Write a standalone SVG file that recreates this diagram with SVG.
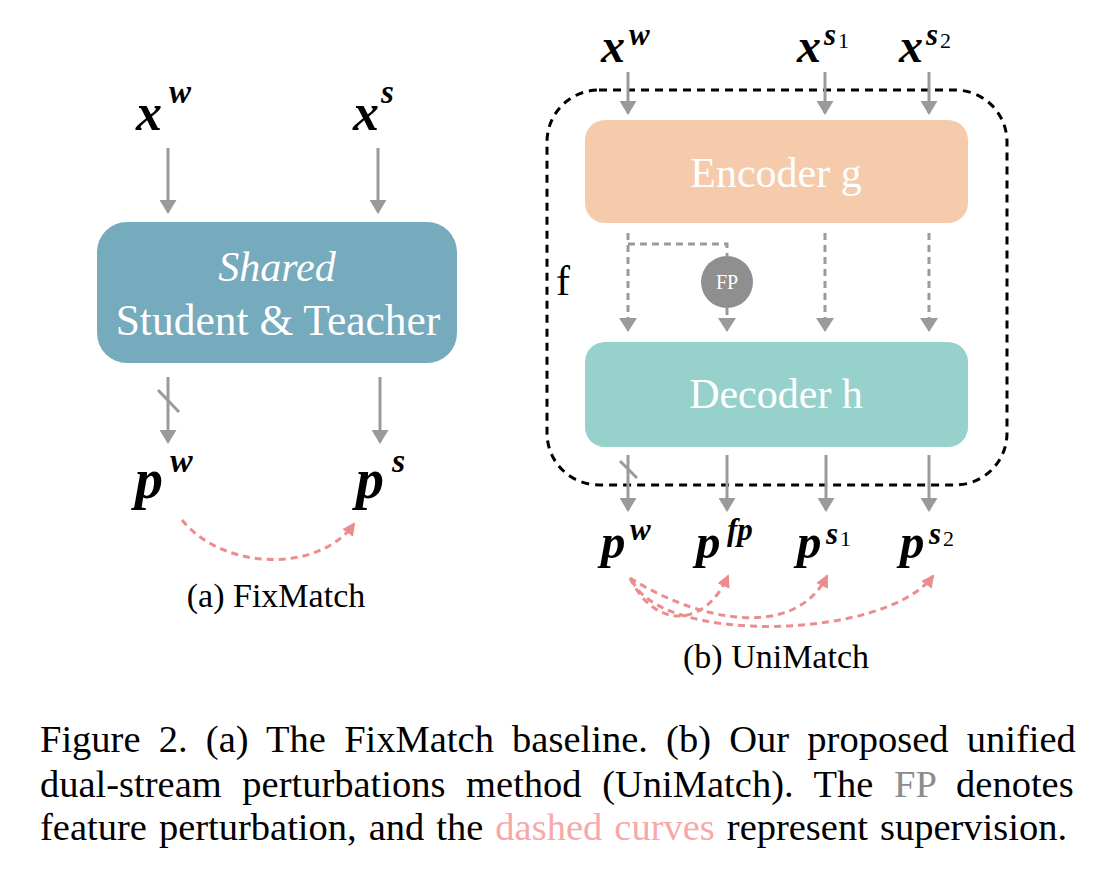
<svg xmlns="http://www.w3.org/2000/svg" width="1116" height="870" viewBox="0 0 1116 870">
<defs>
<style>
.m{font-family:"Liberation Serif","Times New Roman",serif;font-style:italic;font-weight:bold;fill:#000}
.d{font-family:"Liberation Serif","Times New Roman",serif;font-style:normal;font-weight:normal;fill:#000}
.t{font-family:"Liberation Serif","Times New Roman",serif;fill:#000}
.w{font-family:"Liberation Serif","Times New Roman",serif;fill:#fff;text-anchor:middle}
.ga{stroke:#9a9a9a;stroke-width:3;fill:none;marker-end:url(#ag)}
.gd{stroke:#9a9a9a;stroke-width:3;fill:none;stroke-dasharray:7 5}
.pk{stroke:#ec8d8d;stroke-width:3;fill:none;stroke-dasharray:7 5;marker-end:url(#ap)}
.cap{font-family:"Liberation Serif","Times New Roman",serif;font-size:38.5px;fill:#000}
</style>
<marker id="ag" viewBox="0 0 14 17" refX="12" refY="8.5" markerWidth="14" markerHeight="17" markerUnits="userSpaceOnUse" orient="auto">
<path d="M0,0 L14,8.5 L0,17 z" fill="#9a9a9a"/>
</marker>
<marker id="ap" viewBox="0 0 13 13" refX="11" refY="6.5" markerWidth="13" markerHeight="13" markerUnits="userSpaceOnUse" orient="auto">
<path d="M0,0 L13,6.5 L0,13 z" fill="#ec8d8d"/>
</marker>
</defs>
<rect width="1116" height="870" fill="#fff"/>

<!-- (a) FixMatch -->
<g id="a-xw"><text class="m" x="136" y="130" font-size="52">x</text><text class="m" x="169" y="103" font-size="33">w</text></g>
<g id="a-xs"><text class="m" x="353" y="130" font-size="52">x</text><text class="m" x="381" y="103" font-size="33">s</text></g>
<g id="a-model">
<rect x="97" y="222" width="360" height="141" rx="30" fill="#76aabd"/>
<text class="w" x="277" y="281" font-size="42" font-style="italic">Shared</text>
<text class="w" x="278" y="335" font-size="43.5">Student &amp; Teacher</text>
</g>
<g id="a-pw"><text class="m" x="135" y="498" font-size="56">p</text><text class="m" x="170" y="472" font-size="34">w</text></g>
<g id="a-ps"><text class="m" x="356" y="498" font-size="56">p</text><text class="m" x="392" y="472" font-size="34">s</text></g>
<text id="a-cap" class="t" x="276" y="607" font-size="34" text-anchor="middle">(a) FixMatch</text>

<!-- (b) UniMatch -->
<g id="b-f">
<rect x="547" y="90" width="460" height="395" rx="52" fill="none" stroke="#000" stroke-width="3" stroke-dasharray="8 6"/>
<text class="t" x="556" y="295" font-size="42">f</text>
</g>
<g id="b-xw"><text class="m" x="601" y="62" font-size="48">x</text><text class="m" x="629" y="45" font-size="31">w</text></g>
<g id="b-xs1"><text class="m" x="797" y="62" font-size="48">x</text><text class="m" x="824" y="45" font-size="31">s</text><text class="d" x="838" y="48" font-size="22">1</text></g>
<g id="b-xs2"><text class="m" x="899" y="62" font-size="48">x</text><text class="m" x="926" y="45" font-size="31">s</text><text class="d" x="940" y="48" font-size="22">2</text></g>
<g id="b-enc">
<rect x="585" y="120" width="383" height="103" rx="20" fill="#f6cbab"/>
<text class="w" x="776" y="187" font-size="42">Encoder g</text>
</g>
<g id="b-fp">
<circle cx="727" cy="282" r="26" fill="#8f8f8f"/>
<text class="w" x="727" y="289" font-size="20">FP</text>
</g>
<g id="b-dec">
<rect x="585" y="342" width="383" height="105" rx="20" fill="#97d1cc"/>
<text class="w" x="776" y="408" font-size="42">Decoder h</text>
</g>
<g id="b-pw"><text class="m" x="601" y="558" font-size="49">p</text><text class="m" x="630" y="540" font-size="31">w</text></g>
<g id="b-pfp"><text class="m" x="696" y="558" font-size="49">p</text><text class="m" x="727" y="540" font-size="31">fp</text></g>
<g id="b-ps1"><text class="m" x="797" y="558" font-size="49">p</text><text class="m" x="826" y="544" font-size="31">s</text><text class="d" x="840" y="546" font-size="22">1</text></g>
<g id="b-ps2"><text class="m" x="900" y="558" font-size="49">p</text><text class="m" x="929" y="544" font-size="31">s</text><text class="d" x="943" y="546" font-size="22">2</text></g>
<text id="b-cap" class="t" x="776" y="668" font-size="34" text-anchor="middle">(b) UniMatch</text>

<!-- connectors -->
<g id="connectors">
<line class="ga" x1="168" y1="148" x2="168" y2="212"/>
<line class="ga" x1="378" y1="148" x2="378" y2="212"/>
<line class="ga" x1="168" y1="377" x2="168" y2="442"/>
<line x1="158" y1="390" x2="179" y2="412" stroke="#9a9a9a" stroke-width="3"/>
<line class="ga" x1="380" y1="377" x2="380" y2="442"/>
<path class="pk" d="M182,520 C225,572 320,572 354,524"/>

<line class="ga" x1="628" y1="72" x2="628" y2="113"/>
<line class="ga" x1="825" y1="72" x2="825" y2="113"/>
<line class="ga" x1="929" y1="72" x2="929" y2="113"/>

<path class="gd" d="M628,233 V325"/>
<path class="gd" d="M628,244 H727 V256"/>
<path class="gd" d="M727,308 V325"/>
<path class="gd" d="M825,233 V325"/>
<path class="gd" d="M929,233 V325"/>
<path d="M619,318 L637,318 L628,332 z M718,318 L736,318 L727,332 z M816,318 L834,318 L825,332 z M920,318 L938,318 L929,332 z" fill="#9a9a9a"/>

<line class="ga" x1="628" y1="455" x2="628" y2="510"/>
<line x1="620" y1="461" x2="637" y2="478" stroke="#9a9a9a" stroke-width="3"/>
<line class="ga" x1="727" y1="455" x2="727" y2="510"/>
<line class="ga" x1="826" y1="455" x2="826" y2="510"/>
<line class="ga" x1="929" y1="455" x2="929" y2="510"/>

<path class="pk" d="M630,578 C655,630 705,628 728,576"/>
<path class="pk" d="M630,578 C700,622 795,640 827,576"/>
<path class="pk" d="M632,580 C660,645 885,640 933,576"/>
</g>

<!-- caption -->
<g id="caption">
<text class="cap" x="40" y="752" word-spacing="8.6">Figure 2. (a) The FixMatch baseline. (b) Our proposed unified</text>
<text class="cap" x="40" y="797" word-spacing="11">dual-stream perturbations method (UniMatch). The <tspan fill="#8c8c8c">FP</tspan> denotes</text>
<text class="cap" x="40" y="840" word-spacing="2.4">feature perturbation, and the <tspan fill="#f5a9a9">dashed curves</tspan> represent supervision.</text>
</g>
</svg>
